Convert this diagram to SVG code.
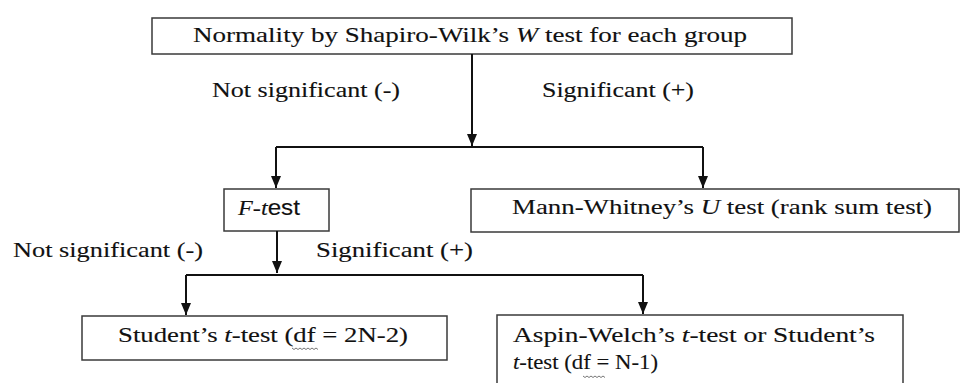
<svg xmlns="http://www.w3.org/2000/svg" width="961" height="383" viewBox="0 0 961 383">
<style>
  .box { fill: #fff; stroke: #3a3a3a; stroke-width: 1.5; }
  text { font-family: 'Liberation Serif', 'Times New Roman', serif; font-size: 21.5px; fill: #111; stroke: #111; stroke-width: 0.12; }
  .i { font-style: italic; }
  .sans { font-family: 'Liberation Sans', Arial, sans-serif; }
  .conn { fill: none; stroke: #111; stroke-width: 2; }
  .wavy { fill: none; stroke: #777; stroke-width: 1; }
</style>
<defs>
  <marker id="ah" viewBox="0 0 12 10" refX="12" refY="5" markerWidth="12" markerHeight="10" markerUnits="userSpaceOnUse" orient="auto">
    <path d="M0,0 L12,5 L0,10 z" fill="#111"/>
  </marker>
</defs>
<rect width="961" height="383" fill="#fff"/>

<g id="n-normality">
  <rect class="box" x="152" y="18" width="640" height="36"/>
  <text x="193" y="42" textLength="554" lengthAdjust="spacingAndGlyphs">Normality by Shapiro-Wilk’s <tspan class="i">W</tspan> test for each group</text>
</g>

<g id="labels-1">
  <text x="212" y="97" textLength="188" lengthAdjust="spacingAndGlyphs">Not significant (-)</text>
  <text x="542" y="97" textLength="152" lengthAdjust="spacingAndGlyphs">Significant (+)</text>
</g>

<g id="n-ftest">
  <rect class="box" x="224" y="189" width="105" height="42"/>
  <text x="238" y="215" textLength="62" lengthAdjust="spacingAndGlyphs"><tspan class="i">F</tspan>-<tspan class="i">t</tspan><tspan class="sans">est</tspan></text>
</g>

<g id="n-mann">
  <rect class="box" x="471" y="189" width="488" height="43"/>
  <text x="512" y="214" textLength="420" lengthAdjust="spacingAndGlyphs">Mann-Whitney’s <tspan class="i">U</tspan> test (rank sum test)</text>
</g>

<g id="labels-2">
  <text x="13" y="257" textLength="190" lengthAdjust="spacingAndGlyphs">Not significant (-)</text>
  <text x="316" y="257" textLength="157" lengthAdjust="spacingAndGlyphs">Significant (+)</text>
</g>

<g id="n-student">
  <rect class="box" x="82" y="316" width="365" height="44"/>
  <text x="118" y="342" textLength="290" lengthAdjust="spacingAndGlyphs">Student’s <tspan class="i">t</tspan>-test (df = 2N-2)</text>
  <path class="wavy" d="M292,348 l2,1.5 l2,-1.5 l2,1.5 l2,-1.5 l2,1.5 l2,-1.5 l2,1.5 l2,-1.5 l2,1.5 l2,-1.5 l2,1.5 l2,-1.5 l2,1.5"/>
</g>

<g id="n-aspin">
  <rect class="box" x="497" y="315" width="406" height="80"/>
  <text x="513" y="342" textLength="362" lengthAdjust="spacingAndGlyphs">Aspin-Welch’s <tspan class="i">t</tspan>-test or Student’s</text>
  <text x="513" y="369" textLength="145" lengthAdjust="spacingAndGlyphs"><tspan class="i">t</tspan>-test (df = N-1)</text>
  <path class="wavy" d="M583,376 l2,1.5 l2,-1.5 l2,1.5 l2,-1.5 l2,1.5 l2,-1.5 l2,1.5 l2,-1.5 l2,1.5 l2,-1.5 l2,1.5"/>
</g>

<g id="connectors">
  <path class="conn" d="M472,54 V146" marker-end="url(#ah)"/>
  <path class="conn" d="M276,147 H703"/>
  <path class="conn" d="M276,147 V188" marker-end="url(#ah)"/>
  <path class="conn" d="M703,147 V188" marker-end="url(#ah)"/>
  <path class="conn" d="M277,231 V273" marker-end="url(#ah)"/>
  <path class="conn" d="M186,275 H643"/>
  <path class="conn" d="M186,275 V315" marker-end="url(#ah)"/>
  <path class="conn" d="M643,275 V314" marker-end="url(#ah)"/>
</g>
</svg>
